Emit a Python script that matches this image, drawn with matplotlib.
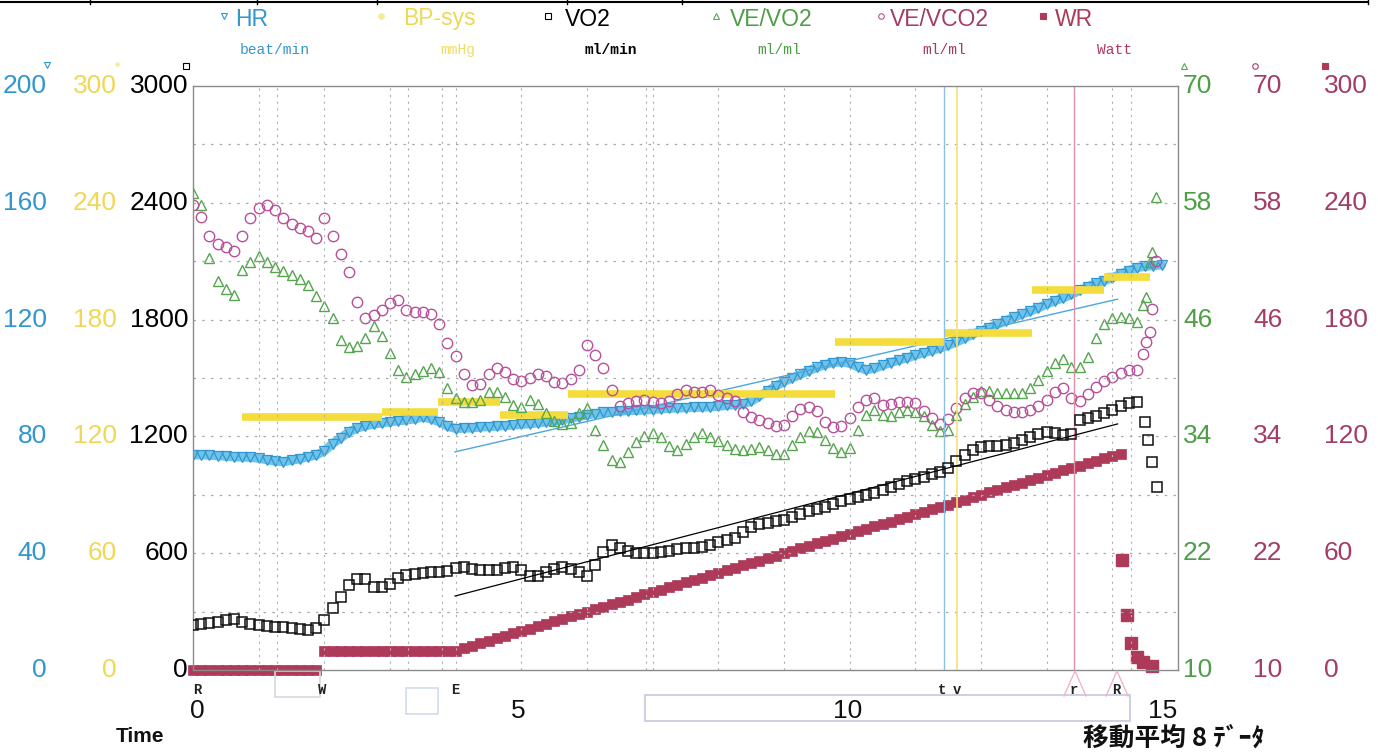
import numpy as np
import matplotlib
matplotlib.use('Agg')
import matplotlib.pyplot as plt
import matplotlib.lines as mlines
import matplotlib.patches as mpatches
from matplotlib.transforms import blended_transform_factory as blend
from matplotlib import font_manager

# ---------------- data ----------------
step_min = 0.125  # sampling interval (min)

hr_bpm = [73.6, 73.7, 73.5, 73.4, 73.2, 73.0, 72.9, 72.8,
          72.5, 72.0, 71.5, 71.3, 71.8, 72.3, 73.0, 73.6,
          75.0, 77.5, 79.5, 81.5, 82.9, 83.6, 84.2, 84.6,
          85.0, 85.3, 85.6, 86.0, 86.6, 86.0, 85.0, 83.5,
          82.7, 82.8, 82.9, 83.2, 83.3, 83.5, 83.7, 83.9,
          84.1, 84.3, 84.6, 84.9, 85.2, 85.7, 86.2, 86.8,
          87.3, 87.8, 88.2, 88.4, 88.6, 88.8, 88.9, 89.0,
          89.2, 89.4, 89.6, 89.7, 89.8, 89.9, 90.0, 90.1,
          90.3, 90.6, 90.9, 91.2, 92.0, 93.8, 95.5, 97.2,
          98.8, 100.0, 101.2, 102.5, 103.6, 104.6, 105.3, 105.5,
          105.0, 103.8, 102.8, 103.3, 104.3, 105.3, 106.1, 106.9,
          107.8, 108.6, 109.4, 110.2, 111.2, 112.3, 113.6, 115.0,
          116.1, 117.2, 118.4, 119.6, 120.8, 121.8, 122.9, 124.0,
          125.3, 126.4, 127.4, 128.6, 130.0, 131.2, 132.5, 133.3,
          134.3, 135.6, 136.8, 137.8, 138.2, 138.5, 138.7]

vo2_ml = [231, 236, 241, 247, 257, 262, 247, 236,
          231, 226, 221, 221, 216, 211, 205, 216,
          257, 318, 375, 437, 467, 467, 426, 426,
          442, 473, 488, 493, 498, 503, 503, 509,
          524, 529, 519, 514, 514, 514, 524, 529,
          514, 483, 483, 503, 519, 529, 519, 503,
          483, 539, 606, 642, 627, 611, 601, 601,
          601, 606, 611, 622, 627, 627, 632, 642,
          658, 668, 678, 709, 735, 750, 755, 765,
          771, 786, 801, 817, 827, 837, 853, 868,
          878, 889, 899, 909, 925, 940, 955, 971,
          981, 991, 1007, 1017, 1038, 1074, 1104, 1130,
          1146, 1151, 1151, 1156, 1166, 1181, 1197, 1212,
          1223, 1218, 1207, 1212, 1284, 1295, 1305, 1320,
          1336, 1356, 1372, 1377]

ve_vo2 = [59.0, 57.8, 52.3, 50.0, 49.1, 48.5, 51.1, 51.9,
          52.5, 51.9, 51.4, 51.0, 50.6, 50.2, 49.6, 48.4,
          47.4, 46.2, 43.9, 43.2, 43.3, 44.1, 45.3, 44.3,
          42.6, 40.8, 40.1, 40.4, 40.7, 41.0, 40.6, 39.0,
          37.9, 37.5, 37.5, 37.7, 38.6, 38.6, 38.0, 37.2,
          37.0, 37.7, 37.3, 36.4, 35.6, 35.3, 35.4, 36.4,
          36.9, 34.7, 33.1, 31.6, 31.4, 32.4, 33.4, 34.0,
          34.3, 33.9, 33.0, 32.6, 33.2, 33.9, 34.3, 33.9,
          33.5, 33.1, 32.7, 32.6, 32.7, 32.9, 32.6, 32.2,
          32.2, 33.1, 33.9, 34.6, 34.5, 33.6, 32.8, 32.4,
          32.8, 34.7, 36.2, 36.7, 36.2, 36.1, 36.5, 36.7,
          36.5, 36.1, 35.2, 34.6, 34.7, 36.2, 37.3, 38.0,
          38.7, 38.7, 38.5, 38.5, 38.5, 38.5, 39.0, 39.8,
          40.7, 41.5, 42.0, 41.1, 41.1, 42.2, 44.1, 45.5,
          46.2, 46.3, 46.2, 45.8]

ve_vco2 = [57.8, 56.5, 54.6, 53.8, 53.5, 53.0, 54.6, 56.4,
           57.5, 57.8, 57.3, 56.4, 55.8, 55.4, 55.1, 54.4,
           56.4, 54.6, 52.7, 50.9, 47.8, 46.2, 46.5, 47.0,
           47.7, 48.0, 47.0, 46.8, 46.8, 46.6, 45.5, 43.6,
           42.3, 40.4, 39.3, 39.4, 40.4, 41.0, 40.6, 39.9,
           39.7, 40.0, 40.4, 40.2, 39.6, 39.5, 39.9, 40.8,
           43.4, 42.4, 41.0, 38.8, 37.1, 37.4, 37.6, 37.7,
           37.5, 37.4, 37.6, 38.4, 38.8, 38.6, 38.6, 38.8,
           38.3, 37.9, 37.6, 36.5, 36.0, 35.7, 35.4, 35.1,
           35.2, 36.1, 36.8, 37.0, 36.6, 35.5, 35.0, 35.1,
           35.9, 37.0, 37.7, 37.9, 37.2, 37.3, 37.5, 37.5,
           37.4, 36.6, 35.9, 35.3, 35.8, 36.9, 37.9, 38.5,
           38.5, 37.7, 37.1, 36.7, 36.5, 36.5, 36.7, 37.1,
           37.7, 38.6, 39.0, 37.9, 37.6, 38.4, 39.1, 39.7,
           40.1, 40.5, 40.8, 40.8]

wr_watt = [0, 0, 0, 0, 0, 0, 0, 0,
           0, 0, 0, 0, 0, 0, 0, 0,
           10, 10, 10, 10, 10, 10, 10, 10,
           10, 10, 10, 10, 10, 10, 10, 10,
           10.0, 11.2, 12.5, 13.8, 15.0, 16.2, 17.5, 18.8,
           20.0, 21.2, 22.5, 23.8, 25.0, 26.2, 27.5, 28.8,
           30.0, 31.2, 32.5, 33.8, 35.0, 36.2, 37.5, 38.8,
           40.0, 41.2, 42.5, 43.8, 45.0, 46.2, 47.5, 48.8,
           50.0, 51.2, 52.5, 53.8, 55.0, 56.2, 57.5, 58.8,
           60.0, 61.2, 62.5, 63.8, 65.0, 66.2, 67.5, 68.8,
           70.0, 71.2, 72.5, 73.8, 75.0, 76.2, 77.5, 78.8,
           80.0, 81.2, 82.5, 83.8, 85.0, 86.2, 87.5, 88.8,
           90.0, 91.2, 92.5, 93.8, 95.0, 96.2, 97.5, 98.8,
           100.0, 101.2, 102.5, 103.8, 105.0, 106.2, 107.5, 108.8,
           110.0, 111.2]

# recovery samples (after end of load)
rec_vo2_t = [14.49, 14.55, 14.60, 14.68]
rec_vo2 = [1274, 1182, 1069, 940]
rec_vevo2_t = [14.46, 14.52, 14.58, 14.61, 14.67]
rec_vevo2 = [47.5, 48.3, 51.9, 52.9, 58.6]
rec_vevco2_t = [14.46, 14.52, 14.57, 14.61, 14.67]
rec_vevco2 = [42.5, 43.7, 44.7, 47.1, 52.0]
rec_wr_t = [14.14, 14.22, 14.28, 14.38, 14.46, 14.60]
rec_wr = [56.5, 28.3, 13.9, 6.7, 4.1, 2.1]

# systolic blood pressure (held between measurements)
bp_start = [0.75, 2.88, 3.73, 4.67, 5.71, 9.77, 11.45, 12.77, 13.88]
bp_end = [2.88, 3.73, 4.67, 5.71, 9.77, 11.45, 12.77, 13.88, 14.57]
bp_sys = [130, 132.5, 137.7, 131, 141.8, 168.5, 173.1, 195.2, 201.9]

# regression lines
fit_t = [3.99, 14.08]
vo2_fit = [380, 1264]
hr_fit = [74.7, 127.0]

# event markers (min)
ev_t_at, ev_v_at, ev_r_at = 11.43, 11.64, 13.42
event_labels = ['R', 'W', 'E', 't', 'v', 'r', 'R']
event_times = [0.06, 1.97, 4.0, 11.41, 11.64, 13.42, 14.06]

time_labels = ['0', '5', '10', '15']
time_label_pos = [0.06, 4.95, 9.97, 14.76]

hr_ticks = [0, 40, 80, 120, 160, 200]
bp_ticks = [0, 60, 120, 180, 240, 300]
vo2_ticks = [0, 600, 1200, 1800, 2400, 3000]
ve_ticks = [10, 22, 34, 46, 58, 70]
wr_ticks = [0, 60, 120, 180, 240, 300]

# ---------------- style ----------------
names = {f.name for f in font_manager.fontManager.ttflist}
NARROW = 'Liberation Sans Narrow' if 'Liberation Sans Narrow' in names else 'Liberation Sans'
MONO = 'Liberation Mono' if 'Liberation Mono' in names else 'DejaVu Sans Mono'

C_HR = '#3296cf'
C_HR_BAND = '#6ec3ea'
C_BP = '#f3dc3c'
C_BP_T = '#eed855'
C_VO2 = '#111111'
C_G = '#55a64e'
C_G_T = '#4d9e47'
C_P = '#b8509a'
C_P_T = '#a33d68'
C_WR = '#ae3a5a'

W, H = 1378, 752
fig = plt.figure(figsize=(W / 100, H / 100), dpi=100)
fig.patch.set_facecolor('white')


def fx(x):
    return x / W


def fy(y):
    return 1 - y / H


ax = fig.add_axes([fx(193), fy(670), (1178 - 193) / W, (670 - 86) / H])
ax.set_xlim(0, 15)
ax.set_ylim(0, 3000)
ax.set_xticks([])
ax.set_yticks([])
for s in ax.spines.values():
    s.set_color('#8a8a8a')
    s.set_linewidth(1.0)

# grid
for m in list(range(1, 15)) + [1.28, 3.27, 3.79, 6.9, 14.28]:
    ax.axvline(m, color='#b0b0b0', lw=0.8, ls=(0, (2, 4)), zorder=0)
for v in range(300, 3000, 300):
    ax.axhline(v, color='#a8a8a8', lw=0.9, ls=(0, (2, 5)), zorder=0)

# event vertical lines
ax.axvline(ev_t_at, color='#8cc0e6', lw=1.0, zorder=1)
ax.axvline(ev_v_at, color='#f2e27a', lw=1.2, zorder=1)
ax.axvline(ev_r_at, color='#e090a4', lw=1.0, zorder=1)

ax_hr = ax.twinx(); ax_hr.set_ylim(0, 200)
ax_bp = ax.twinx(); ax_bp.set_ylim(0, 300)
ax_ve = ax.twinx(); ax_ve.set_ylim(10, 70)
ax_wr = ax.twinx(); ax_wr.set_ylim(0, 300)
for a in (ax_hr, ax_bp, ax_ve, ax_wr):
    a.set_xlim(0, 15)
    a.axis('off')

# BP bars
ax_bp.hlines(bp_sys, bp_start, bp_end, colors=C_BP, lw=5.5, zorder=2)

# WR
t_wr = np.arange(len(wr_watt)) * step_min
ax_wr.plot(t_wr, wr_watt, ls='none', marker='s', ms=7.8, mfc=C_WR, mec=C_WR,
           mew=0.5, clip_on=False, zorder=3)
ax_wr.plot(rec_wr_t, rec_wr, ls='none', marker='s', ms=8.5, mfc=C_WR, mec=C_WR,
           clip_on=False, zorder=3)

# VE/VO2 and VE/VCO2
t_ve = np.arange(len(ve_vo2)) * step_min
ax_ve.plot(t_ve, ve_vo2, ls='none', marker='^', ms=7, mfc='none', mec=C_G, mew=1.0, zorder=4)
ax_ve.plot(rec_vevo2_t, rec_vevo2, ls='none', marker='^', ms=7, mfc='none', mec=C_G, mew=1.0, zorder=4)
ax_ve.plot(t_ve, ve_vco2, ls='none', marker='o', ms=7.5, mfc='none', mec=C_P, mew=1.0, zorder=4)
ax_ve.plot(rec_vevco2_t, rec_vevco2, ls='none', marker='o', ms=7.5, mfc='none', mec=C_P, mew=1.0, zorder=4)

# HR
t_hr = np.arange(len(hr_bpm)) * step_min
ax_hr.plot(t_hr, hr_bpm, color=C_HR_BAND, lw=6.5, solid_capstyle='round', zorder=5)
ax_hr.plot(t_hr, hr_bpm, ls='none', marker='v', ms=7, mfc='none', mec=C_HR, mew=0.9, zorder=5)
ax_hr.plot(fit_t, hr_fit, color='#4aa8dc', lw=1.0, zorder=5)

# VO2
t_vo2 = np.arange(len(vo2_ml)) * step_min
ax.plot(t_vo2, vo2_ml, ls='none', marker='s', ms=6.5, mfc='none', mec=C_VO2, mew=1.1, zorder=6)
ax.plot(rec_vo2_t, rec_vo2, ls='none', marker='s', ms=6.5, mfc='none', mec=C_VO2, mew=1.1, zorder=6)
ax.plot(fit_t, vo2_fit, color='black', lw=0.9, zorder=6)
ax.set_zorder(1)
ax.patch.set_visible(False)

# ---------------- axis labels ----------------
TICK_FS = 19


def ylabels(axis, vals, xpix, color, ha):
    tr = blend(fig.transFigure, axis.transData)
    for v in vals:
        axis.text(fx(xpix), v, f'{v:g}', transform=tr, ha=ha, va='center',
                  color=color, fontsize=TICK_FS, family=NARROW, clip_on=False)


ylabels(ax_hr, hr_ticks, 47, C_HR, 'right')
ylabels(ax_bp, bp_ticks, 117, C_BP_T, 'right')
ylabels(ax, vo2_ticks, 188, 'black', 'right')
ylabels(ax_ve, ve_ticks, 1183, C_G_T, 'left')
ylabels(ax_ve, ve_ticks, 1253, C_P_T, 'left')
ylabels(ax_wr, wr_ticks, 1324, C_P_T, 'left')


def fmark(xp, yp, marker, color, ms=4, filled=False):
    fig.add_artist(mlines.Line2D([fx(xp)], [fy(yp)], transform=fig.transFigure,
                                 marker=marker, ms=ms, mec=color,
                                 mfc=color if filled else 'none', mew=0.8, ls='none'))


# small symbols above the scales
fmark(47, 65, 'v', C_HR)
fmark(117, 64, 'o', '#f5ec9a', ms=2.5, filled=True)
fmark(186, 66, 's', 'black', ms=5)
fmark(1184, 66, '^', C_G)
fmark(1255, 66, 'o', C_P_T)
fmark(1325, 66, 's', C_WR, ms=5, filled=True)

# legend row
legend = [(224, 'v', C_HR, False, 'HR', 235, C_HR, 'beat/min', 240, C_HR),
          (381, 'o', '#f5ec9a', True, 'BP-sys', 403, C_BP_T, 'mmHg', 440, '#f0dc6a'),
          (548, 's', 'black', False, 'VO2', 565, 'black', 'ml/min', 585, 'black'),
          (716, '^', C_G, False, 'VE/VO2', 730, C_G_T, 'ml/ml', 757, C_G_T),
          (881, 'o', C_P, False, 'VE/VCO2', 890, C_P_T, 'ml/ml', 922, C_P_T),
          (1043, 's', C_WR, True, 'WR', 1055, C_WR, 'Watt', 1097, C_WR)]
for mx, mk, mc, fill, lab, lx, lc, unit, ux, uc in legend:
    fmark(mx, 16, mk, mc, ms=4, filled=fill)
    fig.text(fx(lx), fy(19), lab, ha='left', va='center', color=lc,
             fontsize=16.5, family=NARROW)
    fig.text(fx(ux), fy(50), unit, ha='left', va='center', color=uc,
             fontsize=10.5, family=MONO, weight='bold' if uc == 'black' else 'normal')

# top border remnant
fig.add_artist(mlines.Line2D([0, fx(1368)], [fy(2), fy(2)], transform=fig.transFigure,
                             color='black', lw=1.5))
for xp in [90, 257, 377, 567, 682, 1368]:
    fig.add_artist(mlines.Line2D([fx(xp), fx(xp)], [1, fy(4)], transform=fig.transFigure,
                                 color='black', lw=1))

# bottom decorations (light boxes)
for (x0, y0, x1, y1, ec) in [(275, 671, 320, 697, '#d4d8de'),
                             (406, 688, 438, 714, '#cfdcee'),
                             (645, 695, 1130, 721, '#c4c8dc')]:
    fig.add_artist(mpatches.Rectangle((fx(x0), fy(y1)), (x1 - x0) / W, (y1 - y0) / H,
                                      transform=fig.transFigure, fill=False, ec=ec, lw=1.2))
for xc in [1075, 1117]:
    fig.add_artist(mlines.Line2D([fx(xc - 11), fx(xc), fx(xc + 11)],
                                 [fy(696), fy(671), fy(696)], transform=fig.transFigure,
                                 color='#f2b4c4', lw=1.0))

# event letters
trx = blend(ax.transData, fig.transFigure)
for lab, tv in zip(event_labels, event_times):
    ax.text(tv, fy(690), lab, transform=trx, ha='center', va='center',
            fontsize=10, family=MONO, weight='bold', color='#222222', clip_on=False)

# time labels
for lab, tv in zip(time_labels, time_label_pos):
    ax.text(tv, fy(711), lab, transform=trx, ha='center', va='center',
            fontsize=TICK_FS, family=NARROW, color='#111111', clip_on=False)

fig.text(fx(140), fy(737), 'Time', ha='center', va='center', fontsize=15,
         family=NARROW, weight='bold', color='#111111')
fig.text(fx(1174), fy(738), '移動平均 8 ﾃﾞｰﾀ', ha='center', va='center', fontsize=18.5,
         family=['Noto Sans CJK JP', 'DejaVu Sans'], weight='bold', color='#111111')

fig.savefig('out.png', dpi=100, facecolor='white')
